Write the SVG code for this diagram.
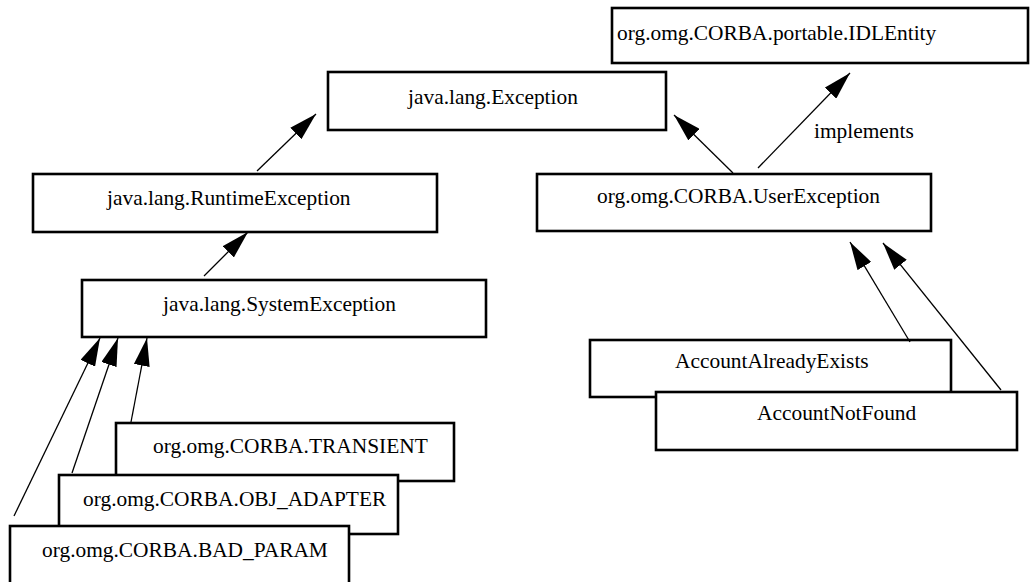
<svg xmlns="http://www.w3.org/2000/svg" width="1030" height="582" viewBox="0 0 1030 582">
<style>
.box{fill:#fff;stroke:#000;stroke-width:2.6}
.t{font-family:"Liberation Serif","Times New Roman",serif;font-size:21.4px;fill:#000}
.c{stroke:#000;stroke-width:1.3;fill:none;marker-end:url(#ah)}
</style>
<defs>
<marker id="ah" markerWidth="28" markerHeight="16" refX="28" refY="8" orient="auto" markerUnits="userSpaceOnUse">
<path d="M0,0 L28,8 L0,16 z" fill="#000"/>
</marker>
</defs>
<rect width="1030" height="582" fill="#fff"/>
<g id="idlentity"><rect class="box" x="612" y="8" width="416" height="55"/><text class="t" x="617" y="40">org.omg.CORBA.portable.IDLEntity</text></g>
<g id="exception"><rect class="box" x="328" y="72" width="338" height="58"/><text class="t" x="408" y="104">java.lang.Exception</text></g>
<g id="runtimeexception"><rect class="box" x="33" y="174" width="404" height="58"/><text class="t" x="107" y="205">java.lang.RuntimeException</text></g>
<g id="userexception"><rect class="box" x="537" y="174" width="394" height="57"/><text class="t" x="597" y="203">org.omg.CORBA.UserException</text></g>
<g id="systemexception"><rect class="box" x="82" y="280" width="404" height="57"/><text class="t" x="163" y="311">java.lang.SystemException</text></g>
<g id="transient"><rect class="box" x="116" y="423" width="338" height="58"/><text class="t" x="153" y="453">org.omg.CORBA.TRANSIENT</text></g>
<g id="obj_adapter"><rect class="box" x="59" y="475" width="339" height="59"/><text class="t" x="83" y="506">org.omg.CORBA.OBJ_ADAPTER</text></g>
<g id="bad_param"><rect class="box" x="10" y="526" width="339" height="60"/><text class="t" x="42" y="557">org.omg.CORBA.BAD_PARAM</text></g>
<g id="accountalreadyexists"><rect class="box" x="590" y="340" width="361" height="57"/><text class="t" x="675" y="368">AccountAlreadyExists</text></g>
<g id="accountnotfound"><rect class="box" x="656" y="392" width="361" height="58"/><text class="t" x="757" y="420">AccountNotFound</text></g>
<g id="connectors">
<line class="c" x1="257" y1="171" x2="316" y2="114"/>
<line class="c" x1="204" y1="276" x2="248" y2="232"/>
<line class="c" x1="733" y1="173" x2="674" y2="115"/>
<line class="c" x1="758" y1="168" x2="850" y2="73"/>
<text class="t" x="814" y="138">implements</text>
<line class="c" x1="910" y1="342" x2="850" y2="242"/>
<line class="c" x1="1001" y1="390" x2="883" y2="243"/>
<line class="c" x1="14" y1="516" x2="100" y2="338"/>
<line class="c" x1="72" y1="473" x2="118" y2="338"/>
<line class="c" x1="131" y1="422" x2="147" y2="338"/>
</g>
</svg>
